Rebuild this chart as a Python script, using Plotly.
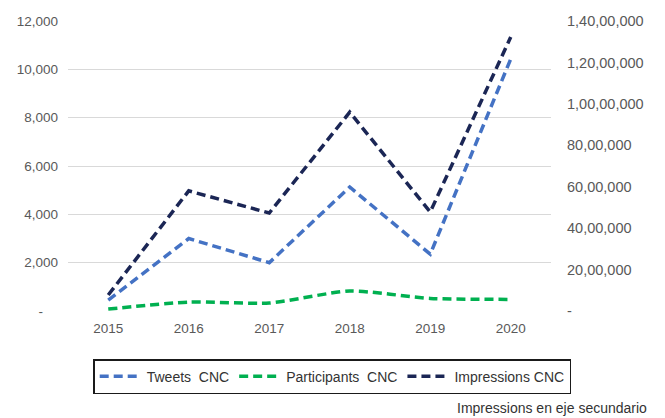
import plotly.graph_objects as go

years = ["2015", "2016", "2017", "2018", "2019", "2020"]
tweets = [450, 3000, 2000, 5130, 2350, 10430]
participants = [80, 370, 330, 830, 520, 480]
impressions = [770000, 5800000, 4730000, 9600000, 4780000, 13230000]

NB = "\u00a0"
left_ticks = [0, 2000, 4000, 6000, 8000, 10000, 12000]
left_labels = ["-" + NB * 4, "2,000", "4,000", "6,000", "8,000", "10,000", "12,000"]
right_ticks = [0, 2000000, 4000000, 6000000, 8000000, 10000000, 12000000, 14000000]
right_labels = ["-", "20,00,000", "40,00,000", "60,00,000", "80,00,000",
                "1,00,00,000", "1,20,00,000", "1,40,00,000"]

FONT = "Liberation Sans, Arial, sans-serif"
dash = "9px,5px"

fig = go.Figure()
fig.add_trace(go.Scatter(x=years, y=tweets, name="Tweets  CNC", mode="lines",
                         line=dict(color="#4472C4", width=3.5, dash=dash)))
fig.add_trace(go.Scatter(x=years, y=participants, name="Participants  CNC", mode="lines",
                         line=dict(color="#00B050", width=3.5, dash=dash,
                                   shape="spline", smoothing=0.6)))
fig.add_trace(go.Scatter(x=years, y=impressions, name="Impressions CNC", mode="lines",
                         yaxis="y2", line=dict(color="#1B2655", width=3.5, dash=dash)))

fig.update_layout(
    width=665, height=418,
    margin=dict(l=68, r=114, t=21, b=107),
    paper_bgcolor="white", plot_bgcolor="white",
    font=dict(family=FONT, color="#595959", size=13.5),
    xaxis=dict(type="category", range=[-0.5, 5.5], showgrid=False, showline=False,
               ticks="", ticklabelstandoff=7, tickfont=dict(size=13.5, color="#595959")),
    yaxis=dict(range=[0, 12000], tickvals=left_ticks, ticktext=left_labels,
               showgrid=True, gridcolor="#D9D9D9", gridwidth=1, zeroline=False,
               showline=False, ticks="", ticklabelstandoff=9,
               tickfont=dict(size=13.5, color="#595959")),
    yaxis2=dict(range=[0, 14000000], tickvals=right_ticks, ticktext=right_labels,
                overlaying="y", side="right", showgrid=False, zeroline=False,
                showline=False, ticks="", ticklabelstandoff=15,
                tickfont=dict(size=14.5, color="#595959")),
    legend=dict(orientation="h", x=0.547, xanchor="center", y=-0.226, yanchor="middle",
                bordercolor="#1A1A1A", borderwidth=1.5, bgcolor="white",
                font=dict(size=14, color="#333333", family=FONT),
                itemwidth=42, tracegroupgap=0),
    annotations=[dict(text="Impressions en eje secundario", xref="paper", yref="paper",
                      x=1.203, y=-0.336, xanchor="right", yanchor="middle",
                      showarrow=False, font=dict(size=14, color="#333333", family=FONT))],
)

fig.write_html("out.html")
